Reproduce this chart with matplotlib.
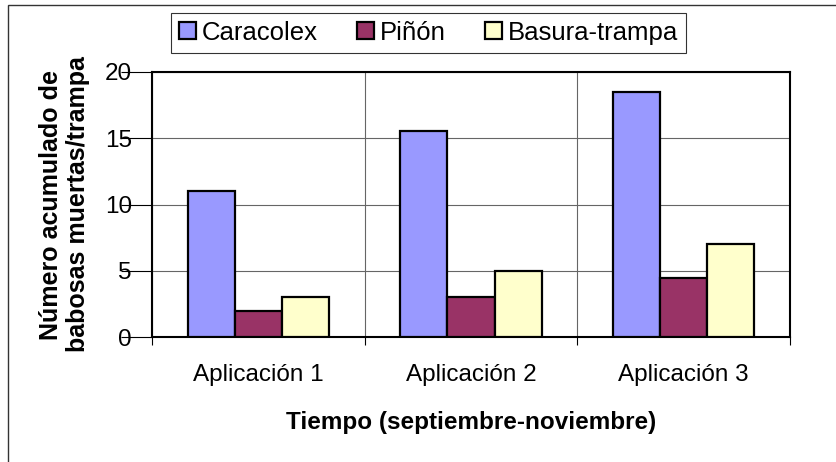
import matplotlib
matplotlib.use("Agg")
import matplotlib.pyplot as plt
from matplotlib.patches import Rectangle
import numpy as np

# data
categorias = ['Aplicación 1', 'Aplicación 2', 'Aplicación 3']
series = ['Caracolex', 'Piñón', 'Basura-trampa']
caracolex = [11, 15.5, 18.5]
pinon = [2, 3, 4.5]
basura = [3, 5, 7]
colores = ['#9999FF', '#993366', '#FFFFCC']
yticks = [0, 5, 10, 15, 20]

plt.rcParams['font.family'] = ['Liberation Sans', 'DejaVu Sans']

fig = plt.figure(figsize=(8.37, 4.62), dpi=100)
# plot area placed like the Excel original
ax = fig.add_axes([0.1816, 0.2699, 0.7622, 0.5749])

x = np.arange(len(categorias))
ancho = 0.222
valores = [caracolex, pinon, basura]
for i, (nombre, vals) in enumerate(zip(series, valores)):
    ax.bar(x + (i - 1) * ancho, vals, ancho, color=colores[i],
           edgecolor='black', linewidth=1.6, label=nombre, zorder=3)

ax.set_xlim(-0.5, len(categorias) - 0.5)
ax.set_ylim(0, 20)
ax.set_yticks(yticks)

# major x ticks on the category boundaries, labels on the centres (minor)
ax.set_xticks(np.arange(len(categorias) + 1) - 0.5)
ax.set_xticklabels([])
ax.set_xticks(x, minor=True)
ax.set_xticklabels(categorias, minor=True)
ax.tick_params(axis='x', which='major', length=6, width=0.8, direction='out')
ax.tick_params(axis='x', which='minor', length=0, pad=19, labelsize=17.5)
ax.tick_params(axis='y', length=22, width=0.8, pad=-7.6, labelsize=17.5)

ax.grid(True, which='major', color='#666666', linewidth=0.8)
ax.set_axisbelow(True)
for s in ax.spines.values():
    s.set_linewidth(1.5)
    s.set_color('black')

ax.set_xlabel('Tiempo (septiembre-noviembre)', fontsize=17.5,
              fontweight='bold', labelpad=18)
ax.set_ylabel('Número acumulado de\nbabosas muertas/trampa', fontsize=18,
              fontweight='bold', labelpad=11, linespacing=1.15)

leg = fig.legend(loc='center', bbox_to_anchor=(0.512, 0.929), ncol=3,
                 fontsize=18.5, frameon=True, fancybox=False,
                 handlelength=0.66, handleheight=0.66, handletextpad=0.25,
                 columnspacing=1.5, borderpad=0.3, borderaxespad=0)
leg.get_frame().set_edgecolor('black')
leg.get_frame().set_linewidth(0.8)
for h in leg.legend_handles:
    h.set_linewidth(1.6)

# outer chart border (only left and top are inside the picture)
fig.add_artist(Rectangle((8 / 837, -0.1), 1.2, 1.1 - 5 / 462,
                         transform=fig.transFigure, fill=False,
                         edgecolor='#333333', linewidth=1.0))

fig.savefig('out.png', dpi=100)
